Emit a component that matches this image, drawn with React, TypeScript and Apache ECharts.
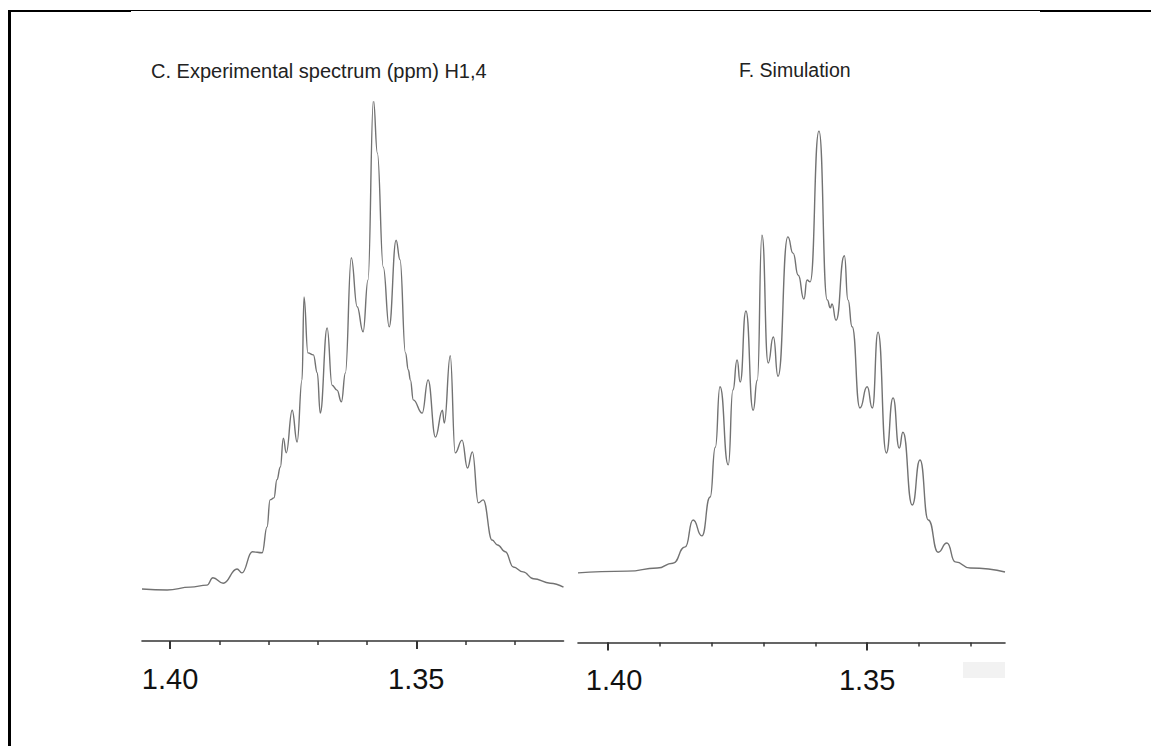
import { useEffect, useRef } from 'react';
import * as echarts from 'echarts';

// Experimental spectrum (ppm, relative intensity)
const expPpm = [
  1.4057, 1.4006, 1.3959, 1.3925, 1.3913, 1.3892, 1.3864, 1.3854, 1.3833, 1.3813,
  1.3803, 1.3797, 1.3789, 1.3783, 1.3776, 1.3770, 1.3764, 1.3752, 1.3742, 1.3732,
  1.3728, 1.3720, 1.3709, 1.3701, 1.3695, 1.3681, 1.3671, 1.3661, 1.3652, 1.3644,
  1.3632, 1.3620, 1.3608, 1.3598, 1.3587, 1.3579, 1.3567, 1.3555, 1.3541, 1.3533,
  1.3522, 1.3516, 1.3512, 1.3506, 1.3488, 1.3476, 1.3461, 1.3447, 1.3443, 1.3431,
  1.3421, 1.3407, 1.3396, 1.3386, 1.3374, 1.3364, 1.3346, 1.3335, 1.3319, 1.3303,
  1.3283, 1.3262, 1.3228, 1.3201,
];
const expIntensity = [
  0.6, 0.4, 1.0, 1.4, 2.9, 1.8, 4.7, 3.9, 8.2, 8.0,
  13.3, 18.8, 19.2, 22.9, 25.5, 31.4, 28.4, 37.1, 30.6, 43.3,
  60.2, 48.8, 48.4, 44.7, 36.5, 53.9, 42.2, 41.2, 38.8, 44.7,
  68.2, 58.2, 53.1, 63.7, 100.4, 89.6, 66.3, 54.1, 71.8, 67.8,
  48.8, 45.3, 43.3, 39.2, 36.5, 43.3, 31.6, 37.1, 34.5, 48.2,
  28.4, 31.0, 25.3, 28.6, 18.2, 18.8, 10.6, 9.6, 8.2, 5.1,
  4.1, 2.7, 1.8, 1.0,
];

// Simulated spectrum (ppm, relative intensity)
const simPpm = [
  1.4058, 1.3963, 1.3905, 1.3875, 1.3851, 1.3836, 1.3819, 1.3803, 1.3793, 1.3784,
  1.3768, 1.3759, 1.3751, 1.3745, 1.3734, 1.3720, 1.3712, 1.3703, 1.3691, 1.3681,
  1.3672, 1.3653, 1.3643, 1.3633, 1.3622, 1.3616, 1.3610, 1.3593, 1.3577, 1.3571,
  1.3568, 1.3560, 1.3544, 1.3537, 1.3529, 1.3514, 1.3500, 1.3490, 1.3479, 1.3463,
  1.3450, 1.3438, 1.3431, 1.3413, 1.3398, 1.3382, 1.3363, 1.3346, 1.3330, 1.3301,
  1.3234,
];
const simIntensity = [
  -0.2, 0.2, 0.9, 2.0, 5.7, 11.8, 8.2, 17.0, 28.3, 42.0,
  24.3, 41.3, 48.1, 43.1, 59.2, 36.7, 43.5, 76.4, 47.4, 53.3,
  44.4, 76.0, 72.3, 67.3, 61.9, 66.2, 65.8, 100.0, 61.7, 59.9,
  60.8, 57.1, 71.7, 61.7, 55.6, 37.2, 42.0, 37.2, 54.4, 27.0,
  39.5, 28.1, 31.7, 15.2, 25.4, 11.8, 4.5, 6.6, 2.3, 0.9,
  0.0,
];

const titles = ['C. Experimental spectrum (ppm) H1,4', 'F. Simulation'];
const minorTicksLeft = [1.32, 1.33, 1.34, 1.35, 1.36, 1.37, 1.38, 1.39, 1.40];
const minorTicksRight = [1.33, 1.34, 1.35, 1.36, 1.37, 1.38, 1.39, 1.40];
const majorTicks = [1.35, 1.40];
const rangeLeft = [1.3201, 1.4057];
const rangeRight = [1.3234, 1.4058];

const AXIS_COLOR = '#333';
const LINE_COLOR = '#727272';
const FONT = '"Liberation Sans", Arial, sans-serif';

function minorAxis(grid: number, range: number[], ticks: number[]) {
  return {
    type: 'value',
    gridIndex: grid,
    min: range[0],
    max: range[1],
    inverse: true,
    position: 'bottom',
    axisLine: { show: true, onZero: false, lineStyle: { color: AXIS_COLOR, width: 1.6 } },
    axisTick: { show: true, customValues: ticks, length: 4, lineStyle: { color: AXIS_COLOR, width: 1.5 } },
    axisLabel: { show: false },
    splitLine: { show: false },
  };
}

function majorAxis(grid: number, range: number[], shiftFirst: boolean) {
  return {
    type: 'value',
    gridIndex: grid,
    min: range[0],
    max: range[1],
    inverse: true,
    position: 'bottom',
    axisLine: { show: false, onZero: false },
    axisTick: { show: true, customValues: majorTicks, length: 8, lineStyle: { color: AXIS_COLOR, width: 2 } },
    axisLabel: {
      show: true,
      customValues: majorTicks,
      margin: 23,
      fontSize: 29,
      fontFamily: FONT,
      color: '#111',
      formatter: (v: number) => {
        const s = v.toFixed(2);
        return shiftFirst && v > 1.39 ? '{s|' + s + '}' : s;
      },
      rich: {
        s: { fontSize: 29, fontFamily: FONT, color: '#111', padding: [0, 0, 0, 12] },
      },
    },
    splitLine: { show: false },
  };
}

export default function App() {
  const ref = useRef<HTMLDivElement>(null);

  useEffect(() => {
    if (!ref.current) return;
    const chart = echarts.init(ref.current, undefined, { renderer: 'svg' });

    const expData = expPpm.map((p, i) => [p, expIntensity[i]]);
    const simData = simPpm.map((p, i) => [p, simIntensity[i]]);

    chart.setOption({
      animation: false,
      backgroundColor: '#fff',
      grid: [
        { left: 142, width: 421.5, top: 102, height: 539, containLabel: false },
        { left: 578, width: 427, top: 131, height: 511.6, containLabel: false },
      ],
      xAxis: [
        minorAxis(0, rangeLeft, minorTicksLeft),
        majorAxis(0, rangeLeft, false),
        minorAxis(1, rangeRight, minorTicksRight),
        majorAxis(1, rangeRight, true),
      ],
      yAxis: [
        { type: 'value', gridIndex: 0, min: -10, max: 100, show: false, splitLine: { show: false } },
        { type: 'value', gridIndex: 1, min: -16, max: 100, show: false, splitLine: { show: false } },
      ],
      series: [
        {
          type: 'line',
          name: titles[0],
          xAxisIndex: 0,
          yAxisIndex: 0,
          data: expData,
          showSymbol: false,
          smooth: 0.45,
          smoothMonotone: 'x',
          lineStyle: { color: LINE_COLOR, width: 1.4 },
        },
        {
          type: 'line',
          name: titles[1],
          xAxisIndex: 2,
          yAxisIndex: 1,
          data: simData,
          showSymbol: false,
          smooth: 0.55,
          smoothMonotone: 'x',
          lineStyle: { color: LINE_COLOR, width: 1.4 },
        },
      ],
      graphic: [
        { type: 'line', shape: { x1: 9, y1: 10.5, x2: 1151, y2: 10.5 }, style: { stroke: '#000', lineWidth: 1 } },
        { type: 'line', shape: { x1: 9, y1: 11, x2: 131, y2: 11 }, style: { stroke: '#000', lineWidth: 2 } },
        { type: 'line', shape: { x1: 1040, y1: 11, x2: 1151, y2: 11 }, style: { stroke: '#000', lineWidth: 2 } },
        { type: 'line', shape: { x1: 9.5, y1: 10, x2: 9.5, y2: 746 }, style: { stroke: '#000', lineWidth: 3 } },
        { type: 'rect', shape: { x: 963, y: 662, width: 42, height: 16 }, style: { fill: '#f2f2f2' } },
        {
          type: 'text',
          x: 151,
          y: 71,
          style: { text: titles[0], font: '20px ' + FONT, fill: '#222', verticalAlign: 'middle', align: 'left' },
        },
        {
          type: 'text',
          x: 739,
          y: 70,
          style: { text: titles[1], font: '19.5px ' + FONT, fill: '#222', verticalAlign: 'middle', align: 'left' },
        },
      ],
    });

    return () => chart.dispose();
  }, []);

  return (
    <div
      ref={ref}
      style={{ position: 'fixed', left: 0, top: 0, width: 1151, height: 746, background: '#fff' }}
    />
  );
}
